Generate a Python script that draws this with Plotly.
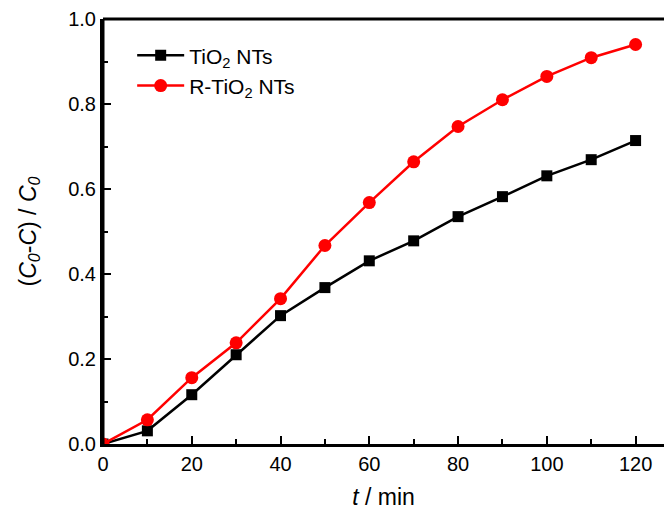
import plotly.graph_objects as go

t_min = [0, 10, 20, 30, 40, 50, 60, 70, 80, 90, 100, 110, 120]
tio2 = [0.0, 0.031, 0.116, 0.21, 0.302, 0.368, 0.431, 0.478, 0.535, 0.582, 0.631, 0.669, 0.714]
r_tio2 = [0.0, 0.057, 0.156, 0.238, 0.342, 0.467, 0.568, 0.664, 0.747, 0.81, 0.865, 0.909, 0.940]

fig = go.Figure()
fig.add_trace(go.Scatter(x=t_min, y=tio2, mode="lines+markers", name="TiO<sub>2</sub> NTs",
                         line=dict(color="black", width=2.5),
                         marker=dict(symbol="square", size=11, color="black")))
fig.add_trace(go.Scatter(x=t_min, y=r_tio2, mode="lines+markers", name="R-TiO<sub>2</sub> NTs",
                         line=dict(color="#ff0000", width=2.5),
                         marker=dict(symbol="circle", size=13, color="#ff0000")))

font = "Liberation Sans, Arial, sans-serif"
fig.update_layout(
    width=656, height=502,
    margin=dict(l=95, r=0, t=11, b=66),
    plot_bgcolor="white", paper_bgcolor="white",
    font=dict(family=font, size=20, color="black"),
    showlegend=True,
    legend=dict(x=0.052, y=0.962, xanchor="left", yanchor="top",
                bgcolor="rgba(0,0,0,0)", font=dict(size=21), itemwidth=47,
                tracegroupgap=2),
    xaxis=dict(range=[0, 126.4], tickvals=[0, 20, 40, 60, 80, 100, 120],
               ticks="inside", ticklen=8, tickwidth=2, tickcolor="black",
               minor=dict(dtick=10, ticks="inside", ticklen=5, tickwidth=2, tickcolor="black"),
               showline=True, linecolor="black", linewidth=3, mirror=False,
               showgrid=False, zeroline=False, automargin=False,
               title=dict(text="<i>t</i> / min", font=dict(size=23), standoff=16)),
    yaxis=dict(range=[0, 1.0], tickvals=[0, 0.2, 0.4, 0.6, 0.8, 1.0],
               ticktext=["0.0", "0.2", "0.4", "0.6", "0.8", "1.0"],
               ticks="inside", ticklen=8, tickwidth=2, tickcolor="black",
               minor=dict(dtick=0.1, ticks="inside", ticklen=5, tickwidth=2, tickcolor="black"),
               showline=True, linecolor="black", linewidth=3, mirror=False,
               showgrid=False, zeroline=False, automargin=False,
               title=dict(text="(<i>C</i><sub><i>0</i></sub>-<i>C</i>) / <i>C</i><sub><i>0</i></sub>",
                          font=dict(size=23), standoff=26)),
)
# top and left border lines
fig.add_shape(type="line", xref="paper", yref="paper", x0=0, x1=1, y0=1, y1=1,
              line=dict(color="black", width=3))
fig.add_shape(type="line", xref="paper", yref="paper", x0=0, x1=0, y0=0, y1=1,
              line=dict(color="black", width=3))

fig.write_html("out.html")
